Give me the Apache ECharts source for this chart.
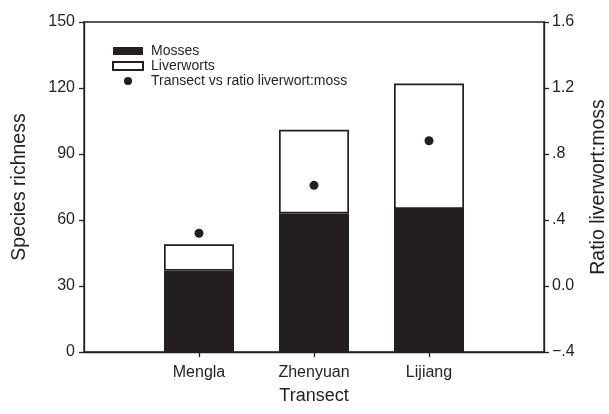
<!DOCTYPE html>
<html>
<head>
<meta charset="utf-8">
<script src="https://cdn.jsdelivr.net/npm/echarts@6/dist/echarts.min.js"></script>
<style>html,body{margin:0;padding:0;background:#fff}#c{width:609px;height:414px}</style>
</head>
<body>
<div id="c"></div>
<script>
const categories = ['Mengla', 'Zhenyuan', 'Lijiang'];
const mosses = [37, 63, 65];
const liverworts = [12, 38, 57];
const ratio = [0.32, 0.61, 0.88];
const ratioTickLabels = ['\u2212.4', '0.0', '.4', '.8', '1.2', '1.6'];
const richnessTicks = { min: 0, max: 150, interval: 30 };

const ink = '#231f20';
const font = 'Liberation Sans, Arial, Helvetica, sans-serif';
const axisCats = [''].concat(categories, ['']);
const pad = arr => [null].concat(arr, [null]);

const chart = echarts.init(document.getElementById('c'));
chart.setOption({
  animation: false,
  backgroundColor: '#fff',
  textStyle: { fontFamily: font, color: ink },
  grid: { left: 84, right: 65, top: 22, bottom: 62, show: true, borderColor: ink, borderWidth: 1.3, containLabel: false, outerBoundsMode: 'none' },
  legend: {
    orient: 'vertical', left: 112, top: 44, padding: 0,
    itemWidth: 30, itemHeight: 8, itemGap: 1,
    textStyle: { fontFamily: font, fontSize: 14, color: ink, padding: [0, 0, 0, 3] },
    data: [
      { name: 'Mosses', icon: 'rect' },
      { name: 'Liverworts', icon: 'rect' },
      { name: 'Transect vs ratio liverwort:moss', icon: 'circle' }
    ]
  },
  xAxis: {
    type: 'category', data: axisCats, boundaryGap: false,
    name: 'Transect', nameLocation: 'middle', nameGap: 35,
    nameTextStyle: { fontFamily: font, fontSize: 18, color: ink },
    axisLine: { lineStyle: { color: ink, width: 1.3 } },
    axisTick: { show: true, inside: false, length: 5, lineStyle: { color: ink, width: 1.3 }, interval: (i) => i > 0 && i < axisCats.length - 1 },
    axisLabel: { fontFamily: font, fontSize: 16, color: ink, margin: 13, interval: 0 },
    splitLine: { show: false }
  },
  yAxis: [
    {
      type: 'value', min: richnessTicks.min, max: richnessTicks.max, interval: richnessTicks.interval,
      name: 'Species richness', nameLocation: 'middle', nameGap: 54, nameRotate: 90,
      nameTextStyle: { fontFamily: font, fontSize: 19.5, color: ink },
      axisLine: { show: true, lineStyle: { color: ink, width: 1.3 } },
      axisTick: { show: true, length: 5, lineStyle: { color: ink, width: 1.3 } },
      axisLabel: { fontFamily: font, fontSize: 16, color: ink, margin: 9 },
      splitLine: { show: false }
    },
    {
      type: 'value', min: -0.4, max: 1.6, interval: 0.4, position: 'right',
      name: 'Ratio liverwort:moss', nameLocation: 'middle', nameGap: 45, nameRotate: 90,
      nameTextStyle: { fontFamily: font, fontSize: 19.5, color: ink },
      axisLine: { show: true, lineStyle: { color: ink, width: 1.3 } },
      axisTick: { show: true, length: 5, lineStyle: { color: ink, width: 1.3 } },
      axisLabel: { fontFamily: font, fontSize: 16, color: ink, margin: 8, formatter: (v, i) => ratioTickLabels[i] },
      splitLine: { show: false }
    }
  ],
  series: [
    {
      name: 'Mosses', type: 'bar', stack: 'rich', barWidth: 70,
      itemStyle: { color: ink, borderColor: ink, borderWidth: 0 },
      data: pad(mosses)
    },
    {
      name: 'Liverworts', type: 'bar', stack: 'rich', barWidth: 70,
      itemStyle: { color: '#fff', borderColor: ink, borderWidth: 1.7 },
      data: pad(liverworts)
    },
    {
      name: 'Transect vs ratio liverwort:moss', type: 'scatter', yAxisIndex: 1,
      symbol: 'circle', symbolSize: 9, itemStyle: { color: ink, opacity: 1 },
      data: pad(ratio)
    }
  ]
});
</script>
</body>
</html>
